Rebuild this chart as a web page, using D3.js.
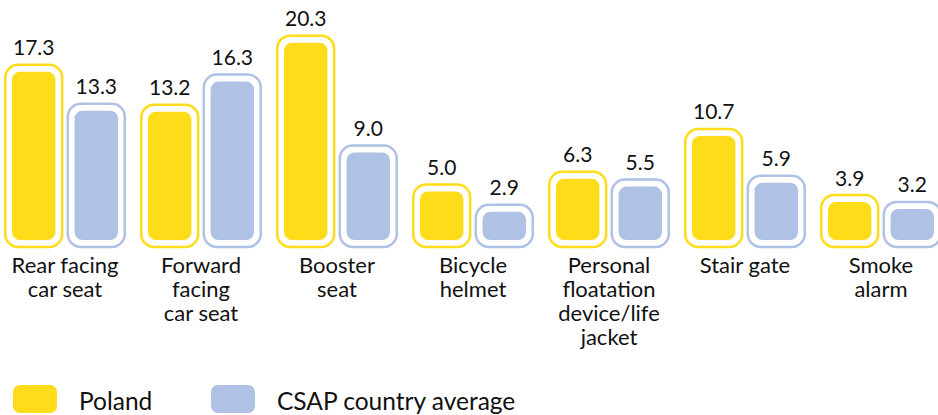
<html>
<head>
<meta charset="utf-8">
<title>Poland vs CSAP country average</title>
<script src="https://cdn.jsdelivr.net/npm/d3@7"></script>
<style>
  body { margin: 0; background: #fff; }
  text { font-family: Lato, "Open Sans", sans-serif; fill: #111; }
</style>
</head>
<body>
<div id="chart"></div>
<script>
  var categories = ["Rear facing car seat", "Forward facing car seat", "Booster seat", "Bicycle helmet",
                    "Personal floatation device/life jacket", "Stair gate", "Smoke alarm"];
  var labelLines = [["Rear facing", "car seat"], ["Forward", "facing", "car seat"], ["Booster", "seat"],
                    ["Bicycle", "helmet"], ["Personal", "floatation", "device/life", "jacket"],
                    ["Stair gate"], ["Smoke", "alarm"]];
  var series = ["Poland", "CSAP country average"];
  var poland = [17.3, 13.2, 20.3, 5.0, 6.3, 10.7, 3.9];
  var csap   = [13.3, 16.3, 9.0, 2.9, 5.5, 5.9, 3.2];
  var colors = ["#FFDC1A", "#AFC1E4"];

  var width = 938, height = 415;
  var base = 240;   // bottom of the inner bars

  var svg = d3.select("#chart").append("svg")
      .attr("width", width).attr("height", height);

  var x0 = d3.scaleBand().domain(categories).range([4, 4 + 136 * 7]);
  var x1 = d3.scaleBand().domain(series).range([0, 122]).paddingInner(0.05);
  var y = d3.scaleLinear().domain([0, 21]).range([base, base - 21 * 9.72]);

  var rows = categories.map(function(c, i) {
    return { cat: c, lines: labelLines[i], vals: [poland[i], csap[i]] };
  });

  var g = svg.selectAll("g.grp").data(rows).enter().append("g")
      .attr("class", "grp")
      .attr("transform", function(d) { return "translate(" + x0(d.cat) + ",0)"; });

  var bw = x1.bandwidth();
  var bars = g.selectAll("g.bar")
      .data(function(d) { return d.vals.map(function(v, j) { return { s: series[j], v: v, j: j }; }); })
      .enter().append("g").attr("class", "bar");

  // outline
  bars.append("rect")
      .attr("x", function(d) { return x1(d.s) + 1.25; })
      .attr("y", function(d) { return y(d.v) - 7; })
      .attr("width", bw - 2.5)
      .attr("height", function(d) { return base + 7 - (y(d.v) - 7); })
      .attr("rx", 13).attr("ry", 13)
      .attr("fill", "none")
      .attr("stroke", function(d) { return colors[d.j]; })
      .attr("stroke-width", 2.5);

  // fill
  bars.append("rect")
      .attr("x", function(d) { return x1(d.s) + 8; })
      .attr("y", function(d) { return y(d.v); })
      .attr("width", bw - 16)
      .attr("height", function(d) { return base - y(d.v); })
      .attr("rx", 8).attr("ry", 8)
      .attr("fill", function(d) { return colors[d.j]; });

  bars.append("text")
      .attr("x", function(d) { return x1(d.s) + bw / 2; })
      .attr("y", function(d) { return y(d.v) - 16.5; })
      .attr("text-anchor", "middle")
      .attr("font-size", 21)
      .text(function(d) { return d3.format(".1f")(d.v); });

  // category labels
  g.append("text")
      .attr("text-anchor", "middle")
      .attr("font-size", 22)
      .attr("transform", "translate(61,273)")
      .selectAll("tspan")
      .data(function(d) { return d.lines; })
      .enter().append("tspan")
      .attr("x", 0)
      .attr("dy", function(d, i) { return i ? 24 : 0; })
      .text(function(d) { return d; });

  // legend
  var legendX = [13, 211];
  var leg = svg.selectAll("g.leg").data(series).enter().append("g")
      .attr("class", "leg")
      .attr("transform", function(d, i) { return "translate(" + legendX[i] + ",385)"; });
  leg.append("rect")
      .attr("width", 44).attr("height", 28)
      .attr("rx", 7).attr("ry", 7)
      .attr("fill", function(d, i) { return colors[i]; });
  leg.append("text")
      .attr("x", 66).attr("y", 24.5)
      .attr("font-size", 24.5)
      .text(function(d) { return d; });
</script>
</body>
</html>
